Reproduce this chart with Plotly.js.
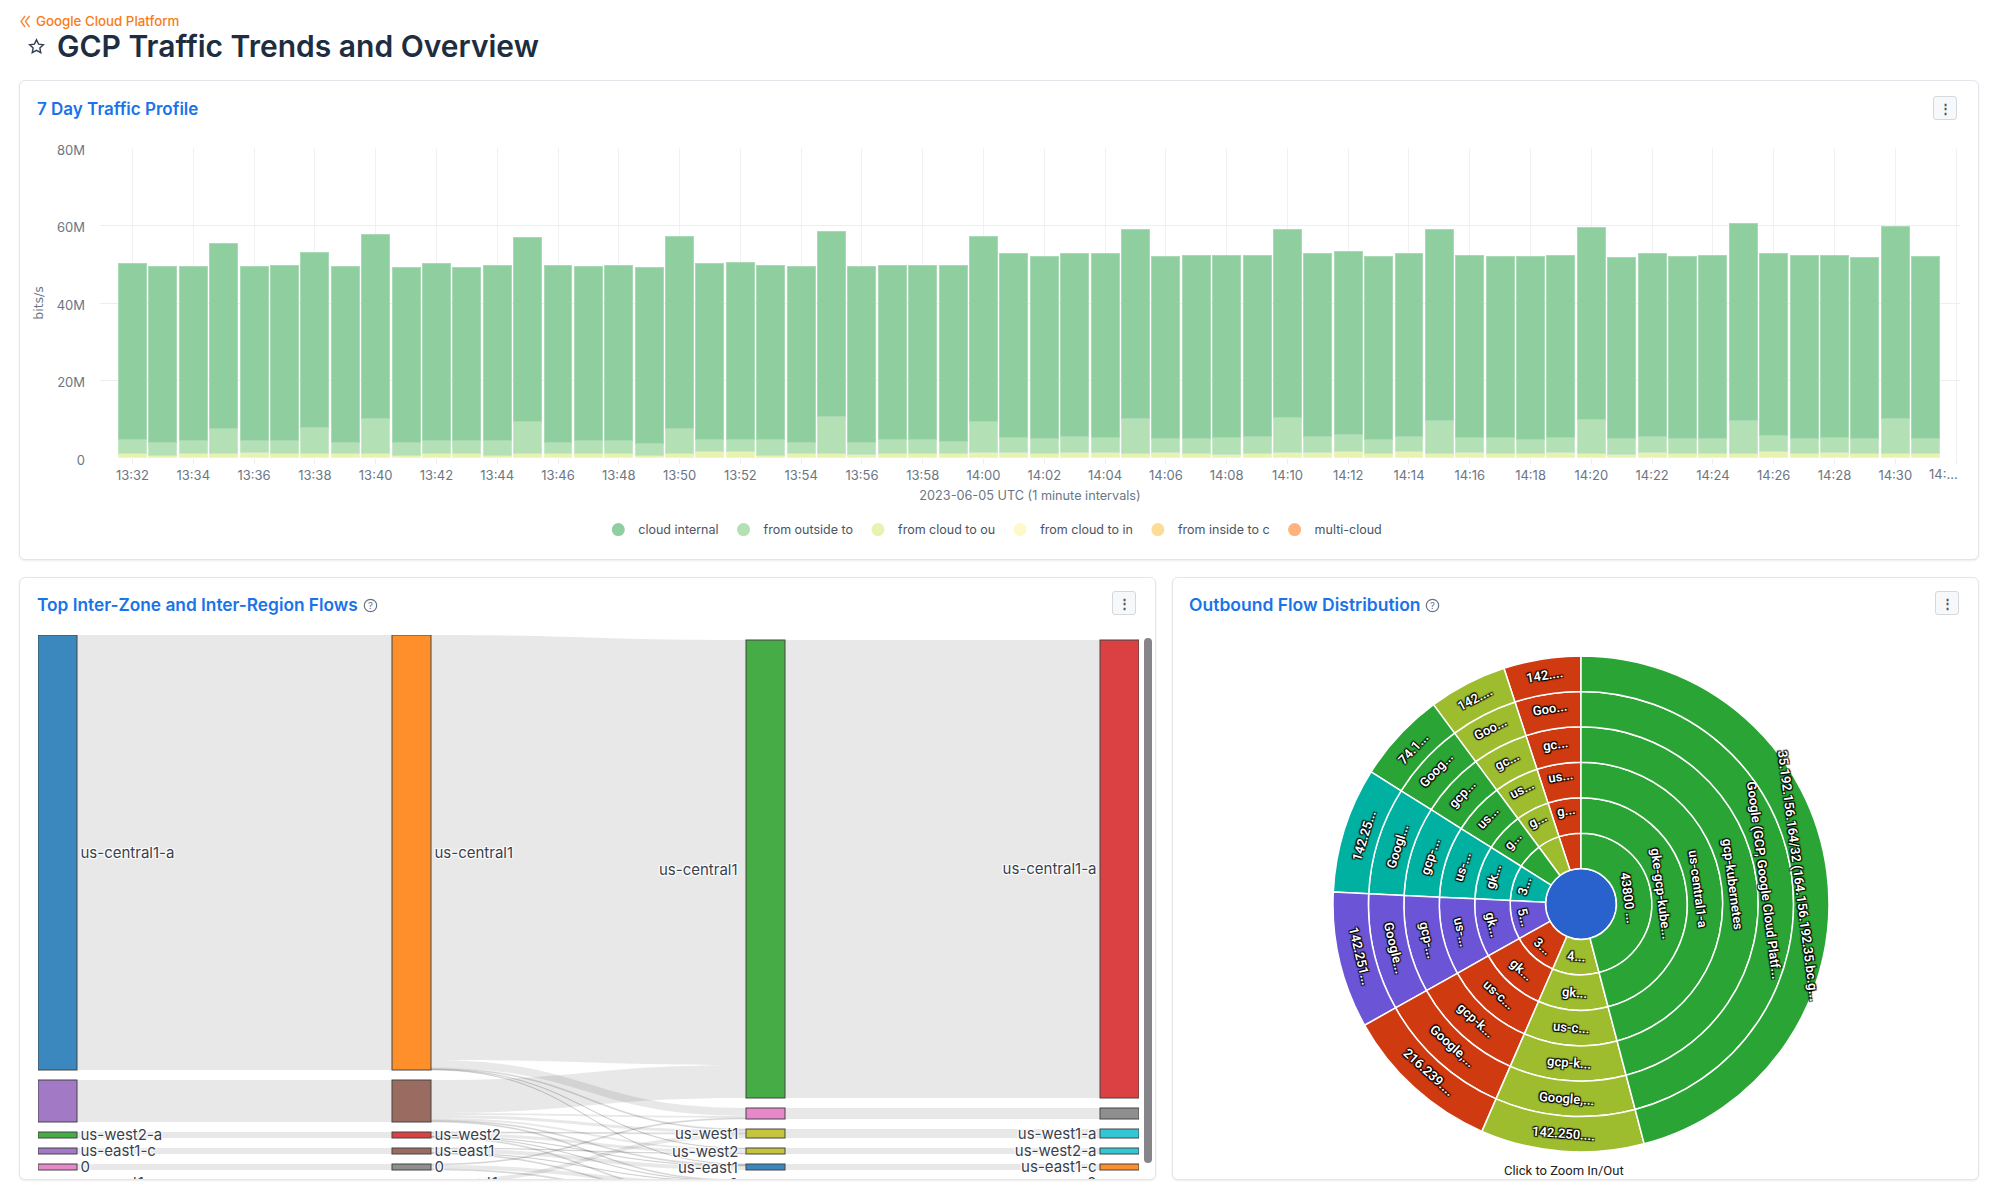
<!DOCTYPE html>
<html><head><meta charset="utf-8">
<script src="https://cdn.plot.ly/plotly-3.0.1.min.js"></script>
<style>
html,body{margin:0;padding:0;background:#fff;width:2000px;height:1199px;overflow:hidden;font-family:Inter,sans-serif}
.abs{position:absolute}
.panel{position:absolute;box-sizing:border-box;border:1px solid #e2e5e9;border-radius:6px;box-shadow:0 1px 2px rgba(0,0,0,.08);background:#fff;overflow:hidden}
.ptitle{position:absolute;color:#1a73e8;font:600 17.3px Inter,sans-serif;white-space:nowrap;line-height:22px}
.menu{position:absolute;width:24px;height:24px;box-sizing:border-box;border:1px solid #d5d9de;border-radius:3px;background:#f7f8f9;color:#4b5563;font:700 13px/22px Inter,sans-serif;text-align:center}
</style></head><body>
<svg class="abs" style="left:20px;top:15px" width="11" height="13" viewBox="0 0 11 13"><path d="M5 1 L1 6.5 L5 12 M9.5 1 L5.5 6.5 L9.5 12" fill="none" stroke="#f58a3c" stroke-width="1.4"/></svg>
<div class="abs" style="left:36px;top:13px;color:#f97b16;font:500 13.3px/17px Inter,sans-serif;white-space:nowrap">Google Cloud Platform</div>
<svg class="abs" style="left:28px;top:38px" width="17" height="17" viewBox="0 0 24 24"><path d="M12 2.5l2.9 6.2 6.8.8-5 4.6 1.3 6.7-6-3.4-6 3.4 1.3-6.7-5-4.6 6.8-.8z" fill="none" stroke="#334155" stroke-width="2"/></svg>
<div class="abs" style="left:57px;top:25px;color:#1e2d40;font:600 30px/42px Inter,sans-serif;white-space:nowrap">GCP Traffic Trends and Overview</div>

<div class="panel" style="left:19px;top:80px;width:1960px;height:480px"></div>
<div class="ptitle" style="left:37px;top:98px;font-size:17px">7 Day Traffic Profile</div>
<div class="menu" style="left:1933px;top:96px">⋮</div>
<div id="bars" class="abs" style="left:19px;top:130px;width:1960px;height:430px"></div>

<div class="panel" style="left:19px;top:577px;width:1137px;height:603px">
  <div id="sankeyClip" class="abs" style="left:18px;top:57px;width:1101px;height:544px;overflow:hidden">
    <div id="sankey" style="width:1101px;height:600px"></div>
  </div>
  <div class="abs" style="left:1124px;top:60px;width:8px;height:525px;background:#85858a;border-radius:4px"></div>
</div>
<div class="ptitle" style="left:37px;top:594px">Top Inter-Zone and Inter-Region Flows</div>
<svg class="abs" style="left:363px;top:598px" width="15" height="15" viewBox="0 0 15 15"><circle cx="7.5" cy="7.5" r="6.2" fill="none" stroke="#6b7280" stroke-width="1.2"/><text x="7.5" y="11" text-anchor="middle" font-size="9.5" font-family="Inter" fill="#6b7280">?</text></svg>
<div class="menu" style="left:1112px;top:591px">⋮</div>

<div class="panel" style="left:1172px;top:577px;width:807px;height:603px"></div>
<div class="ptitle" style="left:1189px;top:594px;font-size:17.5px">Outbound Flow Distribution</div>
<svg class="abs" style="left:1425px;top:598px" width="15" height="15" viewBox="0 0 15 15"><circle cx="7.5" cy="7.5" r="6.2" fill="none" stroke="#6b7280" stroke-width="1.2"/><text x="7.5" y="11" text-anchor="middle" font-size="9.5" font-family="Inter" fill="#6b7280">?</text></svg>
<div class="menu" style="left:1935px;top:591px">⋮</div>
<div id="sun" class="abs" style="left:1173px;top:620px;width:805px;height:558px"></div>

<script>
// ---------- 7 day traffic profile ----------
const minutes = ["13:32","13:33","13:34","13:35","13:36","13:37","13:38","13:39","13:40","13:41","13:42","13:43","13:44","13:45","13:46","13:47","13:48","13:49","13:50","13:51","13:52","13:53","13:54","13:55","13:56","13:57","13:58","13:59","14:00","14:01","14:02","14:03","14:04","14:05","14:06","14:07","14:08","14:09","14:10","14:11","14:12","14:13","14:14","14:15","14:16","14:17","14:18","14:19","14:20","14:21","14:22","14:23","14:24","14:25","14:26","14:27","14:28","14:29","14:30","14:31","14:32"];
const cloudInternal = [45.4,45.45,45.1,47.7,45.1,45.4,45.1,45.45,47.6,45.15,45.7,44.8,45.4,47.7,45.75,45.1,45.4,45.4,49.5,45.4,45.7,45.1,45.45,47.6,45.4,45.1,45.1,45.4,47.7,47.5,47.1,47.4,47.5,48.8,47.1,47.3,47.1,46.8,48.6,47.2,47.2,47.4,47.2,49.3,47.1,46.9,47.4,47.1,49.7,46.8,47.4,47.1,47.3,50.7,46.9,47.3,47.1,46.8,49.6,47.1];
const fromOutside = [3.6,3.3,3.3,6.6,3,3.3,6.9,2.95,9.1,3.3,3.3,3.3,3.65,8.2,2.95,3.3,3.3,3.05,6.6,3.1,3.1,3.95,2.95,9.7,3.1,3.6,3.6,3.1,8.1,3.9,3.9,4.2,3.9,9.1,3.7,3.9,4.4,4.4,9.1,4.2,4.4,3.6,3.9,8.6,3.9,4.1,3.6,3.9,8.8,4.2,4.2,3.9,3.9,8.6,4.2,3.9,3.9,3.9,9.1,3.9];
const fromCloudOut = [1,0.65,1,1,1.3,1,1,1,1,0.65,1,1,0.65,1,1,1,1,0.65,1,1.5,1.5,0.65,1,1,0.7,1,1,1,1.2,1.2,1,1.2,1.2,1,1.2,1,0.7,1,1.2,1.2,1.5,1,1.5,1,1.2,1,1,1.2,1,0.7,1.2,1,1,1,1.5,1,1.2,1,1,1];
const fromCloudIn = [0.1,0.1,0.1,0.1,0.1,0.1,0.1,0.1,0.1,0.1,0.1,0.1,0.1,0.1,0.1,0.1,0.1,0.1,0.1,0.1,0.1,0.1,0.1,0.1,0.1,0.1,0.1,0.1,0.1,0.1,0.1,0.1,0.1,0.1,0.1,0.1,0.1,0.1,0.1,0.1,0.1,0.1,0.1,0.1,0.1,0.1,0.1,0.1,0.1,0.1,0.1,0.1,0.1,0.1,0.1,0.1,0.1,0.1,0.1,0.1];
const seriesNames = ["cloud internal","from outside to","from cloud to ou","from cloud to in","from inside to c","multi-cloud"];
const seriesColors = ["#8fce9f","#b4e0b6","#e8f3b2","#fdf9c8","#fddc98","#fdb37b"];
const seriesEdges = ["#a9dab5","#c6e8c7","#eef6c6","#fefbd8","#fee6b4","#fec79d"];
const tickMinutes = ["13:32","13:34","13:36","13:38","13:40","13:42","13:44","13:46","13:48","13:50","13:52","13:54","13:56","13:58","14:00","14:02","14:04","14:06","14:08","14:10","14:12","14:14","14:16","14:18","14:20","14:22","14:24","14:26","14:28","14:30","14:32"];
const tickLabels = ["13:32","13:34","13:36","13:38","13:40","13:42","13:44","13:46","13:48","13:50","13:52","13:54","13:56","13:58","14:00","14:02","14:04","14:06","14:08","14:10","14:12","14:14","14:16","14:18","14:20","14:22","14:24","14:26","14:28","14:30",""];
const yTickVals = [0,20,40,60,80];
const yTickText = ["0","20M","40M","60M","80M"];

const tickFont = {family:"Inter, sans-serif",size:13,color:"#6b7684"};
const stacked = [[fromCloudIn,3],[fromCloudOut,2],[fromOutside,1],[cloudInternal,0]].map(([v,i])=>({
  type:"bar",x:minutes.slice(0,60),y:v,name:seriesNames[i],showlegend:false,
  marker:{color:seriesColors[i],line:{color:seriesEdges[i],width:1}},width:0.92,hoverinfo:"x+y+name"}));
const legendKeys = seriesNames.map((n,i)=>({
  type:"scatter",mode:"markers",x:[null],y:[null],name:n,
  marker:{color:seriesColors[i],size:13,symbol:"circle"}}));
Plotly.newPlot("bars",[...stacked,...legendKeys],{
  width:1960,height:430,barmode:"stack",
  margin:{l:80.5,r:19,t:18,b:102},
  paper_bgcolor:"rgba(0,0,0,0)",plot_bgcolor:"rgba(0,0,0,0)",
  font:tickFont,
  xaxis:{type:"category",categoryorder:"array",categoryarray:minutes,range:[-1.07,60.13],
    tickmode:"array",tickvals:tickMinutes,ticktext:tickLabels,tickangle:0,
    showgrid:true,gridcolor:"#f0f1f3",gridwidth:1,ticks:"outside",ticklen:5,tickcolor:"#eceef0",
    showline:false,zeroline:false,tickfont:tickFont,
    title:{text:"2023-06-05 UTC (1 minute intervals)",font:{family:"Inter, sans-serif",size:12.7,color:"#6b7684"},standoff:9}},
  yaxis:{range:[0,80],tickmode:"array",tickvals:yTickVals,ticktext:yTickText,
    showgrid:true,gridcolor:"#eceef0",gridwidth:1,zeroline:false,showline:false,
    ticklabelstandoff:14,ticklabelshift:2,tickfont:tickFont,
    title:{text:"bits/s",font:{family:"DejaVu Sans, sans-serif",size:12.5,color:"#6b7684"},standoff:10}},
  legend:{orientation:"h",traceorder:"normal",x:0.48,xanchor:"center",y:-0.232,yanchor:"middle",
    font:{family:"Inter, sans-serif",size:12.5,color:"#4b5563"},bgcolor:"rgba(0,0,0,0)"},
  showlegend:true,
  annotations:[{xref:"paper",yref:"paper",x:(1943-99.5)/1860,y:-16/310,xanchor:"center",yanchor:"middle",
    showarrow:false,text:"14:...",font:tickFont}]
},{displayModeBar:false,staticPlot:true});

// ---------- top flows sankey ----------
const flowLabels = ["us-central1-a","","us-west2-a","us-east1-c","0","us-west1",
  "us-central1","","us-west2","us-east1","0","us-west1",
  "us-central1","","us-west1","us-west2","us-east1","0","us-west2-c",
  "us-central1-a","","us-west1-a","us-west2-a","us-east1-c","0","us-west2-c"];
const flowColors = ["#1f77b4","#9467bd","#2ca02c","#9467bd","#e377c2","#7f7f7f",
  "#ff7f0e","#8c564b","#d62728","#8c564b","#7f7f7f","#bcbd22",
  "#2ca02c","#e377c2","#bcbd22","#bcbd22","#1f77b4","#17becf","#ff7f0e",
  "#d62728","#7f7f7f","#17becf","#17becf","#ff7f0e","#1f77b4","#9467bd"];
const flowColumn = [0,0,0,0,0,0, 1,1,1,1,1,1, 2,2,2,2,2,2,2, 3,3,3,3,3,3,3];
const flowSource = [0,1,2,3,4,5, 6,6,6,6,6, 7,7,7,7,7,7, 8,8,8,8,8, 9,9,9,9, 10,10,10, 11,11, 12,13,14,15,16,17,18];
const flowTarget = [6,7,8,9,10,11, 12,13,14,15,16, 12,13,14,15,16,17, 14,15,16,17,18, 15,16,17,18, 13,17,18, 14,18, 19,20,21,22,23,24,25];
const flowValue  = [435,42,6,6,6,6, 425,8,1,0.5,0.5, 33,2,3,2,1,1, 1,3,0.5,0.5,1, 0.5,4,0.5,1, 1,4,1, 4,2, 458,11,9,6,6,6,5];

const sankeyW = 1101, sankeyH = 561, sankeyFig = 600, nodePad = 10, nodeThick = 39, columnTop = [0,0,5,5], columnGap = 354;
const inflow = flowLabels.map((_,i)=>Math.max(
  flowValue.reduce((s,v,k)=>s+(flowSource[k]===i?v:0),0),
  flowValue.reduce((s,v,k)=>s+(flowTarget[k]===i?v:0),0)));
const cursor = [...columnTop];
const nodeY = inflow.map((v,i)=>{const c=flowColumn[i];const y=(cursor[c]+v/2)/sankeyH;cursor[c]+=v+nodePad;return y;});
const nodeX = flowColumn.map(c=>(c*columnGap+nodeThick/2)/sankeyW);
const sankeyFont = {family:"Inter, sans-serif",size:15,color:"#39414d"};
const whiteHalo = "1px 1px 1px #fff,-1px -1px 1px #fff,1px -1px 1px #fff,-1px 1px 1px #fff";
// third-column labels sit to the left of their nodes, as in the reference
const thirdColumnNotes = flowLabels.map((t,i)=>({t,i})).filter(o=>flowColumn[o.i]===2&&o.t).map(o=>({
  xref:"paper",yref:"paper",x:(2*columnGap-6)/sankeyW,y:1-nodeY[o.i]*sankeyH/sankeyFig,
  xanchor:"right",yanchor:"middle",showarrow:false,text:o.t,
  font:Object.assign({},sankeyFont,{shadow:whiteHalo})}));
Plotly.newPlot("sankey",[{
  type:"sankey",arrangement:"fixed",orientation:"h",
  domain:{x:[0,1],y:[1-sankeyH/sankeyFig,1]},
  node:{label:flowLabels.map((t,i)=>flowColumn[i]===2?"":t),color:flowColors.map(c=>c+"e0"),thickness:nodeThick,pad:nodePad,
    x:nodeX,y:nodeY,line:{color:"#444",width:1}},
  link:{source:flowSource,target:flowTarget,value:flowValue,color:"rgba(0,0,0,0.09)"},
  textfont:sankeyFont
}],{width:sankeyW,height:sankeyFig,margin:{l:0,r:0,t:0,b:0},paper_bgcolor:"rgba(0,0,0,0)",annotations:thirdColumnNotes},{displayModeBar:false});

// ---------- outbound sunburst ----------
const branchValues = [45.9,10.64,10.33,8.9,8.17,5.92,5.11,5.03];
const branchColors = ["#2aa434","#9dbd2f","#d03a10","#6b55d6","#00b0a0","#2aa434","#9dbd2f","#d03a10"];
const branchLabels = [
  ["43800 ...","gke-gcp-kube...","us-central1-a","gcp-kubernetes","Google (GCP, Google Cloud Platf...","35.192.156.164/32 (164.156.192.35.bc.g..."],
  ["4...","gk...","us-c...","gcp-k...","Google,...","142.250...."],
  ["3...","gk...","us-c...","gcp-k...","Google,...","216.239...."],
  ["5...","gk...","us-...","gcp-...","Google...","142.251..."],
  ["3...","gk...","us-...","gcp-...","Googl...","142.25..."],
  [" ","g...","us...","gcp...","Goog...","74.1..."],
  [" ","g...","us...","gc...","Goo...","142...."],
  [" ","g...","us...","gc...","Goo...","142...."]
];
const tiltedBranch = 1;   // this wedge straddles 6 o'clock; its labels follow its mid-angle
const sunTotal = branchValues.reduce((a,b)=>a+b,0);
const sunIds=["root"],sunLabels=[" "],sunParents=[""],sunValues=[sunTotal],sunColors=["#2962cc"];
for(let b=branchLabels.length-1;b>=0;b--){branchLabels[b].forEach((lab,d)=>{
  sunIds.push("b"+b+"d"+d);sunLabels.push(b===tiltedBranch?" ":lab);sunParents.push(d?("b"+b+"d"+(d-1)):"root");
  sunValues.push(branchValues[b]);sunColors.push(branchColors[b]);});}
const blackHalo="1px 1px 1px #000,-1px -1px 1px #000,1px -1px 1px #000,-1px 1px 1px #000";
const sunTextFont={family:"Roboto, sans-serif",size:13,color:"#fff",weight:600,shadow:blackHalo};
const tiltDeg=(branchValues[0]+branchValues[1]/2)/sunTotal*360;
const tiltNotes=branchLabels[tiltedBranch].map((lab,d)=>{
  const r=(d+1.5)/7*0.5, a=tiltDeg*Math.PI/180;
  return {xref:"paper",yref:"paper",x:0.5+r*Math.sin(a),y:0.5+r*Math.cos(a),xanchor:"center",yanchor:"middle",
    showarrow:false,text:lab,textangle:tiltDeg-180,font:sunTextFont};});
Plotly.newPlot("sun",[{
  type:"sunburst",ids:sunIds,labels:sunLabels,parents:sunParents,values:sunValues,
  branchvalues:"total",sort:false,rotation:90,textinfo:"label",insidetextorientation:"tangential",
  leaf:{opacity:1},
  marker:{colors:sunColors,line:{color:"#fff",width:1.5}},
  textfont:sunTextFont
}],{width:805,height:558,margin:{l:160,r:149,t:36,b:26},paper_bgcolor:"rgba(0,0,0,0)",
  uniformtext:{mode:"show",minsize:13},
  annotations:[...tiltNotes,{xref:"paper",yref:"paper",x:0.466,y:-0.037,xanchor:"center",yanchor:"middle",showarrow:false,
    text:"Click to Zoom In/Out",font:{family:"Roboto, sans-serif",size:13,color:"#222"}}]
},{displayModeBar:false});
</script>
</body></html>
